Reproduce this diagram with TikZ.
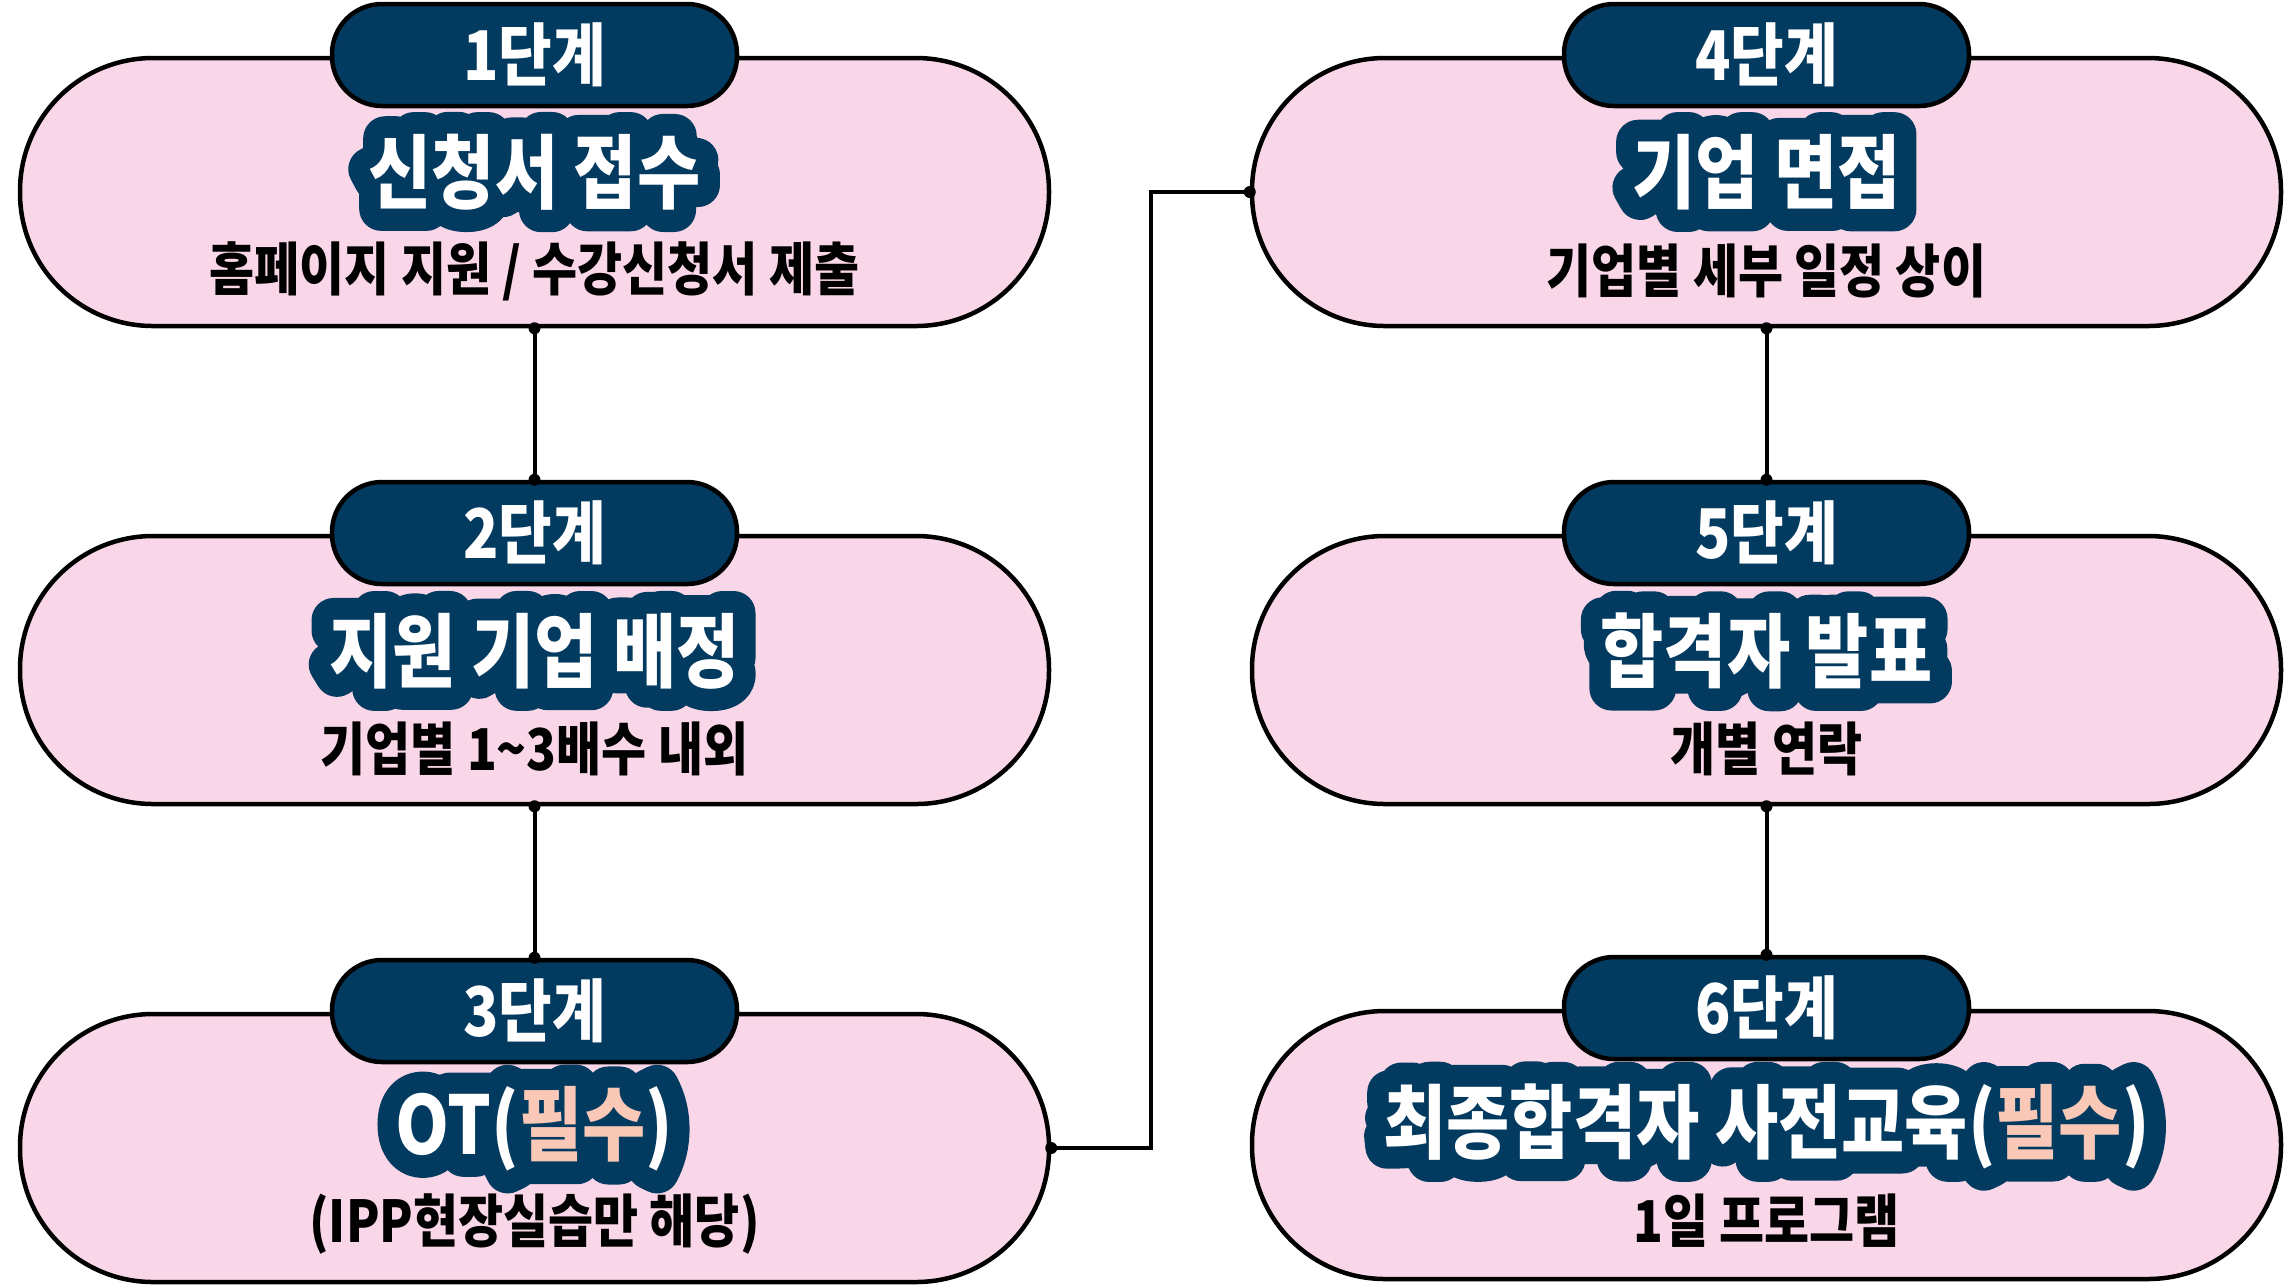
\documentclass[tikz,border=0pt]{standalone}
\usepackage{fontspec}
\setmainfont{Noto Sans CJK KR}[FakeStretch=0.85]
\usetikzlibrary{calc}
\definecolor{pinkfill}{HTML}{FAD7E8}
\definecolor{navy}{HTML}{033A5F}
\definecolor{peach}{HTML}{F9C8B6}
\newsavebox\bubbox
\newcommand\pk[1]{\textcolor{peach}{#1}}
\newcommand\bubble[1]{%
  \sbox\bubbox{\def\pk##1{##1}\color{navy}\special{pdf:literal direct 2 Tr 12.5 w 1 j 1 J}#1\special{pdf:literal direct 0 Tr}}%
  \rlap{\usebox\bubbox}{\color{white}#1}}
\tikzset{
  pill/.style={draw=black, line width=0.045cm, fill=pinkfill, rounded corners=1.33cm,
    minimum width=10.29cm, minimum height=2.68cm, inner sep=0pt},
  tag/.style={draw=black, line width=0.045cm, fill=navy, rounded corners=0.5cm,
    minimum width=4.05cm, minimum height=1.02cm, text=white,
    font=\fontsize{19.5}{22}\selectfont\bfseries, inner sep=0pt},
  ttl/.style={font=\fontsize{23}{26}\selectfont\bfseries, inner sep=0pt},
  sub/.style={font=\fontsize{16.4}{19}\selectfont\bfseries, text=black, inner sep=0pt},
  link/.style={line width=0.04cm, draw=black},
}
\begin{document}
\begin{tikzpicture}
\fill[white] (0,0) rectangle (22.85,-12.86);
\useasboundingbox (0,0) rectangle (22.85,-12.86);
% left column
\node[pill] (p1) at (5.345,-1.92) {};
\node[tag] (t1) at (5.345,-0.55) {1단계};
\node[ttl] (h1) at (5.345,-1.72) {\bubble{신청서 접수}};
\node[sub] (s1) at (5.345,-2.71) {홈페이지 지원 / 수강신청서 제출};
\node[pill] (p2) at (5.345,-6.70) {};
\node[tag] (t2) at (5.345,-5.33) {2단계};
\node[ttl] (h2) at (5.345,-6.51) {\bubble{지원 기업 배정}};
\node[sub] (s2) at (5.345,-7.49) {기업별 1\textasciitilde3배수 내외};
\node[pill] (p3) at (5.345,-11.48) {};
\node[tag] (t3) at (5.345,-10.11) {3단계};
\node[ttl] (h3) at (5.345,-11.29) {\bubble{OT(\pk{필수})}};
\node[sub] (s3) at (5.345,-12.24) {(IPP현장실습만 해당)};
% right column
\node[pill] (p4) at (17.665,-1.92) {};
\node[tag] (t4) at (17.665,-0.55) {4단계};
\node[ttl] (h4) at (17.665,-1.72) {\bubble{기업 면접}};
\node[sub] (s4) at (17.665,-2.71) {기업별 세부 일정 상이};
\node[pill] (p5) at (17.665,-6.70) {};
\node[tag] (t5) at (17.665,-5.33) {5단계};
\node[ttl] (h5) at (17.665,-6.51) {\bubble{합격자 발표}};
\node[sub] (s5) at (17.665,-7.49) {개별 연락};
\node[pill] (p6) at (17.665,-11.45) {};
\node[tag] (t6) at (17.665,-10.08) {6단계};
\node[ttl] (h6) at (17.665,-11.26) {\bubble{최종합격자 사전교육(\pk{필수})}};
\node[sub] (s6) at (17.665,-12.21) {1일 프로그램};
% connectors
\coordinate (j) at (11.51,0);
\draw[link] (p1.south) -- (t2.north);
\draw[link] (p2.south) -- (t3.north);
\draw[link] (p4.south) -- (t5.north);
\draw[link] (p5.south) -- (t6.north);
\draw[link] (p3.east) -- (p3.east -| j) -- (p4.west -| j) -- (p4.west);
\foreach \q in {p1.south,t2.north,p2.south,t3.north,p4.south,t5.north,p5.south,t6.north,p3.east,p4.west}
  \fill[black] (\q) circle (0.06);
\end{tikzpicture}
\end{document}
